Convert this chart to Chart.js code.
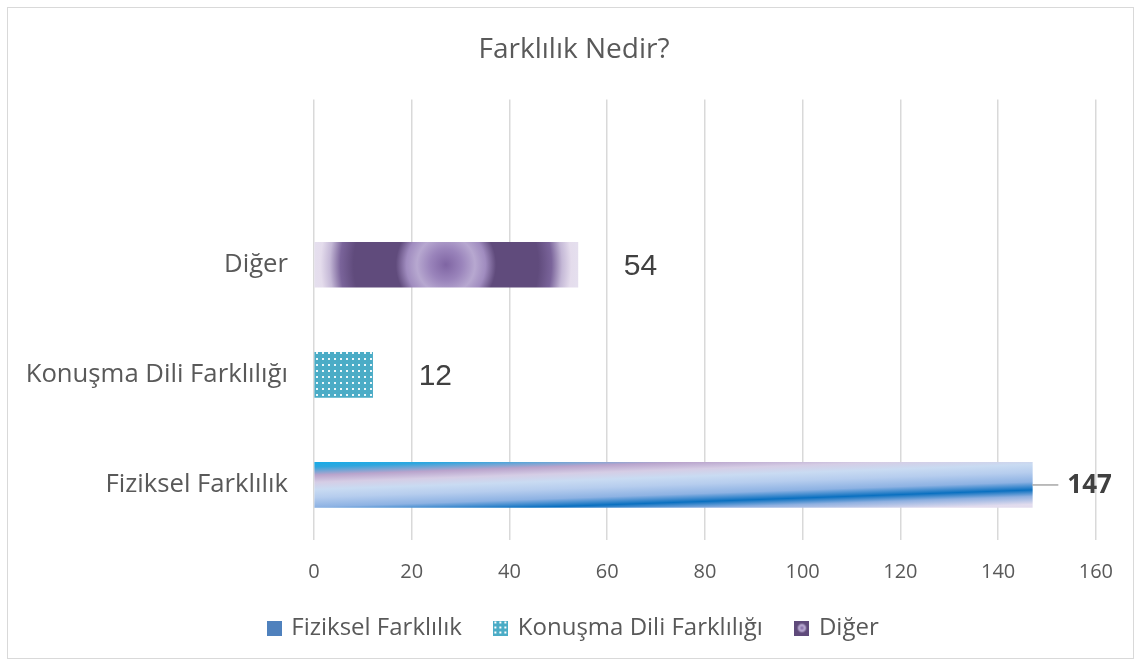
<!DOCTYPE html>
<html>
<head>
<meta charset="utf-8">
<script src="https://cdn.jsdelivr.net/npm/chart.js"></script>
<style>
body { margin: 0; background: #fff; }
.frame { position: absolute; left: 7px; top: 7px; width: 1127px; height: 652px; border: 1px solid #d9d9d9; box-sizing: border-box; }
</style>
</head>
<body>
<div class="frame"><canvas id="myChart"></canvas></div>
<script>
// data (bottom category first, the axis is reversed)
const categories = ['Fiziksel Farklılık', 'Konuşma Dili Farklılığı', 'Diğer', '']
const series_names = ['Fiziksel Farklılık', 'Konuşma Dili Farklılığı', 'Diğer']
const fiziksel = [147, null, null, null]
const konusma = [null, 12, null, null]
const diger = [null, null, 54, null]
const x_min = 0
const x_max = 160
const x_step = 20

const text_color = '#595959'
Chart.defaults.font.family = "'Open Sans', sans-serif"

function bar_box(c) {
    const chart = c.chart
    if (!chart.chartArea || c.raw == null) return null
    return {
        x0: chart.scales.x.getPixelForValue(0),
        x1: chart.scales.x.getPixelForValue(c.raw),
        y: chart.scales.y.getPixelForValue(c.dataIndex)
    }
}

// blue diagonal gradient
function fiziksel_fill(c) {
    const b = bar_box(c)
    if (!b) return '#4f81bd'
    const k = 0.035
    const len = 80
    const n = Math.sqrt(1 + k * k)
    const sx = b.x0, sy = b.y - 22.5 - 5
    const g = c.chart.ctx.createLinearGradient(sx, sy, sx + len * k / n, sy + len / n)
    g.addColorStop(0, '#00b0f0')
    g.addColorStop(0.12, '#2fa6de')
    g.addColorStop(0.22, '#b9a4cc')
    g.addColorStop(0.31, '#d5cde5')
    g.addColorStop(0.4, '#c9dbf2')
    g.addColorStop(0.5, '#b6cdee')
    g.addColorStop(0.62, '#8db2e3')
    g.addColorStop(0.72, '#0a70c0')
    g.addColorStop(0.8, '#8fb0e0')
    g.addColorStop(0.9, '#e2dcee')
    g.addColorStop(1, '#e6dfee')
    return g
}

// purple radial gradient
function diger_fill(c) {
    const b = bar_box(c)
    if (!b) return '#5f4a7a'
    const cx = (b.x0 + b.x1) / 2
    const r = (b.x1 - b.x0) / 2
    const g = c.chart.ctx.createRadialGradient(cx, b.y, 0, cx, b.y, r)
    g.addColorStop(0, '#7f65a3')
    g.addColorStop(0.12, '#9a84bb')
    g.addColorStop(0.22, '#b7a8d0')
    g.addColorStop(0.3, '#a08cbf')
    g.addColorStop(0.38, '#604b7c')
    g.addColorStop(0.7, '#604b7c')
    g.addColorStop(0.8, '#7a649a')
    g.addColorStop(0.88, '#c4b8d6')
    g.addColorStop(0.95, '#e4dcec')
    g.addColorStop(1, '#e5dfee')
    return g
}

// teal with white dots
const tile = document.createElement('canvas')
tile.width = 6
tile.height = 6
const tc = tile.getContext('2d')
tc.fillStyle = '#4bacc6'
tc.fillRect(0, 0, 6, 6)
tc.fillStyle = 'rgba(255,255,255,0.9)'
tc.fillRect(2, 2, 2, 2)
const konusma_fill = document.createElement('canvas').getContext('2d').createPattern(tile, 'repeat')

function make_icon(draw) {
    const cv = document.createElement('canvas')
    cv.width = 15
    cv.height = 15
    draw(cv.getContext('2d'))
    return cv
}
const legend_icons = [
    make_icon(c => { c.fillStyle = '#4f81bd'; c.fillRect(0, 0, 15, 15) }),
    make_icon(c => {
        c.fillStyle = '#4bacc6'; c.fillRect(0, 0, 15, 15)
        c.fillStyle = '#ffffff'
        for (let x = 1; x < 15; x += 5) for (let y = 1; y < 15; y += 5) c.fillRect(x, y, 2, 2)
    }),
    make_icon(c => {
        c.fillStyle = '#5f4a7a'; c.fillRect(0, 0, 15, 15)
        const g = c.createRadialGradient(7.5, 7.5, 0, 7.5, 7.5, 5)
        g.addColorStop(0, '#7f65a3')
        g.addColorStop(0.6, '#c0b2d8')
        g.addColorStop(1, '#5f4a7a')
        c.fillStyle = g; c.fillRect(0, 0, 15, 15)
    })
]

const value_labels = {
    id: 'value_labels',
    afterDatasetsDraw(chart) {
        const c = chart.ctx
        chart.data.datasets.forEach((ds, i) => {
            chart.getDatasetMeta(i).data.forEach((bar, j) => {
                const v = ds.data[j]
                if (v == null) return
                c.save()
                c.fillStyle = '#404040'
                c.textBaseline = 'middle'
                c.textAlign = 'left'
                if (i === 0) {
                    c.strokeStyle = '#a6a6a6'
                    c.lineWidth = 1.5
                    c.beginPath()
                    c.moveTo(bar.x, bar.y)
                    c.lineTo(bar.x + 26, bar.y)
                    c.stroke()
                    c.font = "bold 26px 'Open Sans'"
                    c.fillText(v, bar.x + 35, bar.y + 1)
                } else {
                    c.font = "30px 'Liberation Sans'"
                    c.fillText(v, bar.x + 46, bar.y + 2)
                }
                c.restore()
            })
        })
    }
}

const ctx = document.getElementById('myChart')

new Chart(ctx, {
    type: 'bar',
    data: {
        labels: categories,
        datasets: [
            { label: series_names[0], data: fiziksel, backgroundColor: fiziksel_fill },
            { label: series_names[1], data: konusma, backgroundColor: konusma_fill },
            { label: series_names[2], data: diger, backgroundColor: diger_fill }
        ]
    },
    options: {
        indexAxis: 'y',
        responsive: true,
        maintainAspectRatio: false,
        animation: false,
        events: [],
        layout: { padding: { left: 7, right: 0, top: 0, bottom: 8 } },
        datasets: { bar: { barThickness: 45, grouped: false, borderWidth: 0 } },
        scales: {
            x: {
                min: x_min,
                max: x_max,
                ticks: { stepSize: x_step, color: text_color, font: { size: 20 }, padding: 20 },
                grid: { color: '#d9d9d9', lineWidth: 1.5, drawTicks: false },
                border: { display: false },
                afterFit(s) { s.height = 42 }
            },
            y: {
                reverse: true,
                ticks: { color: text_color, font: { size: 25.7 }, padding: 18 },
                grid: { display: false },
                border: { display: false },
                afterFit(s) { s.width = 299 }
            },
            // empty right-hand space
            pad: {
                type: 'linear',
                position: 'right',
                ticks: { display: false },
                grid: { display: false },
                border: { display: false },
                afterFit(s) { s.width = 37 }
            }
        },
        plugins: {
            title: {
                display: true,
                text: 'Farklılık Nedir?',
                color: text_color,
                font: { size: 28, weight: 'normal' },
                padding: { top: 25, bottom: 33 }
            },
            legend: {
                position: 'bottom',
                labels: {
                    usePointStyle: true,
                    boxWidth: 10,
                    boxHeight: 15,
                    padding: 34,
                    color: text_color,
                    font: { size: 24 },
                    generateLabels: chart => chart.data.datasets.map((ds, i) => ({
                        text: ds.label,
                        pointStyle: legend_icons[i],
                        fillStyle: '#4f81bd',
                        strokeStyle: 'transparent',
                        lineWidth: 0,
                        hidden: false,
                        datasetIndex: i,
                        fontColor: text_color
                    }))
                }
            },
            tooltip: { enabled: false }
        }
    },
    plugins: [value_labels]
});
</script>
</body>
</html>
